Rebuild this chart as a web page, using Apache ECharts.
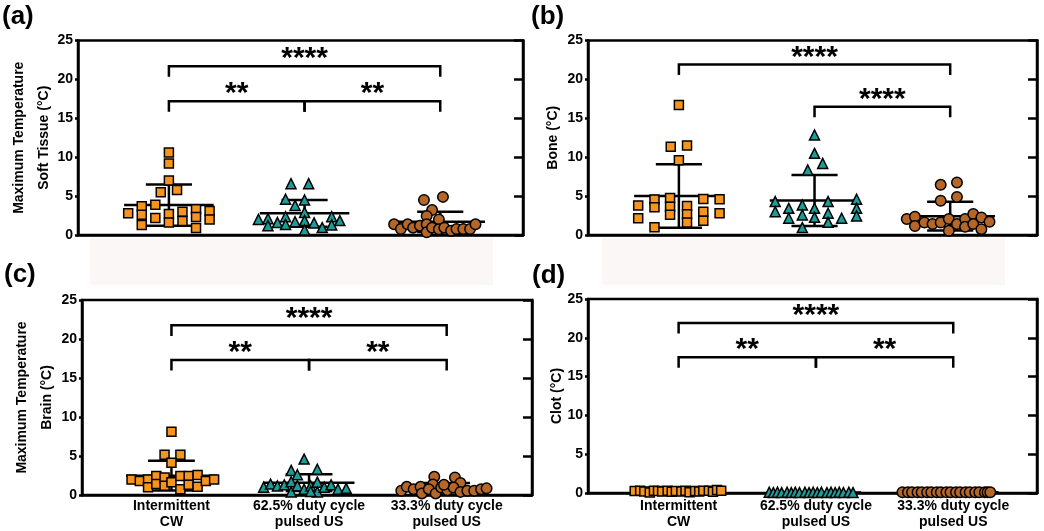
<!DOCTYPE html>
<html>
<head>
<meta charset="utf-8">
<script src="https://cdn.jsdelivr.net/npm/echarts@6/dist/echarts.min.js"></script>
<style>
  html, body { margin: 0; padding: 0; background: #fff; }
  #chart { width: 1044px; height: 531px; }
</style>
</head>
<body>
<div id="chart"></div>
<script>
// groups on the x axis
const categories = ['Intermittent\nCW', '62.5% duty cycle\npulsed US', '33.3% duty cycle\npulsed US'];
const yMin = 0, yMax = 25, yStep = 5;

// points are [jitter, °C]; jitter is the sideways spread inside a group
const softCW = [[0, 10.6], [0, 9.2], [0, 7.0], [-0.06, 5.5], [0.06, 5.8], [-0.1, 3.9], [-0.2, 3.7], [-0.3, 2.8], [-0.2, 2.6], [-0.2, 1.3],
  [-0.1, 2.2], [0, 2.7], [0, 1.6], [0.1, 3.0], [0.1, 1.8], [0.2, 3.3], [0.2, 2.3], [0.2, 0.9], [0.3, 3.1], [0.3, 2.0]];
const softP62 = [[-0.1, 6.6], [0.03, 6.6], [-0.14, 4.6], [0, 4.5], [-0.07, 3.8], [0, 2.9], [-0.34, 2.0], [-0.27, 2.1], [-0.27, 1.2], [-0.2, 1.6],
  [-0.14, 2.35], [-0.14, 1.35], [-0.07, 1.7], [0, 1.85], [0, 0.65], [0.07, 1.55], [0.13, 0.95], [0.2, 2.35], [0.2, 1.3], [0.26, 1.85]];
const softP33 = [[-0.12, 4.5], [0.02, 4.9], [-0.06, 3.2], [-0.1, 2.45], [-0.01, 2.0], [-0.34, 1.37], [-0.29, 0.77], [-0.24, 1.37], [-0.2, 0.94], [-0.15, 1.2],
  [-0.1, 1.37], [-0.1, 0.35], [-0.06, 0.94], [-0.01, 0.73], [0.03, 0.94], [0.08, 0.55], [0.12, 0.77], [0.17, 0.77], [0.22, 0.77], [0.26, 1.37]];

const boneCW = [[0, 16.7], [-0.06, 11.35], [0.06, 11.5], [0, 9.6], [-0.3, 3.8], [-0.3, 2.15], [-0.18, 4.55], [-0.18, 3.56], [-0.18, 1.0], [-0.065, 4.75],
  [-0.065, 3.64], [-0.065, 2.6], [0.06, 3.73], [0.06, 2.66], [0.06, 1.6], [0.18, 4.63], [0.18, 3.0], [0.18, 1.84], [0.3, 4.6], [0.3, 2.8]];
const boneP62 = [[0, 12.85], [0, 10.5], [0.06, 9.2], [-0.05, 8.35], [-0.29, 4.3], [-0.29, 3.0], [-0.19, 3.43], [-0.19, 2.15], [-0.09, 3.86], [-0.09, 2.57],
  [-0.09, 0.95], [0, 3.43], [0, 2.27], [0.1, 4.3], [0.1, 2.8], [0.1, 1.63], [0.2, 2.15], [0.31, 4.6], [0.31, 3.43], [0.31, 2.44]];
const boneP33 = [[-0.07, 6.45], [0.05, 6.75], [0.05, 4.9], [-0.07, 4.4], [-0.32, 2.05], [-0.26, 2.35], [-0.26, 1.15], [-0.19, 1.6], [-0.13, 1.4], [-0.07, 1.6],
  [-0.01, 2.05], [-0.01, 0.55], [0.05, 1.4], [0.11, 2.05], [0.11, 1.05], [0.17, 2.7], [0.17, 1.4], [0.23, 2.25], [0.23, 0.75], [0.29, 1.7]];

const brainCW = [[0, 8.1], [-0.05, 5.15], [0.065, 5.15], [0, 4.15], [-0.29, 2.0], [-0.23, 1.8], [-0.17, 2.0], [-0.17, 1.0], [-0.11, 2.45], [-0.11, 1.4],
  [-0.05, 2.25], [-0.05, 1.2], [0, 1.65], [0.065, 2.45], [0.065, 0.75], [0.125, 2.45], [0.125, 1.3], [0.19, 2.55], [0.19, 1.05], [0.25, 1.8], [0.31, 2.0]];
const brainP62 = [[-0.036, 4.6], [-0.13, 3.15], [0.06, 3.3], [-0.085, 2.6], [-0.33, 1.0], [-0.28, 1.4], [-0.23, 1.15], [-0.18, 1.3], [-0.13, 1.7], [-0.13, 0.4],
  [-0.085, 1.2], [-0.036, 0.75], [0.012, 1.15], [0.06, 1.65], [0.06, 0.4], [0.11, 1.0], [0.16, 1.3], [0.21, 0.75], [0.27, 0.85], [0.012, 0.45]];
const brainP33 = [[-0.09, 2.35], [0.06, 2.25], [0.1, 1.55], [-0.1, 1.35], [-0.33, 0.55], [-0.29, 1.05], [-0.24, 0.75], [-0.19, 1.05], [-0.18, 0.2], [-0.13, 0.75],
  [-0.08, 0.2], [-0.04, 0.95], [0.005, 0.6], [0.05, 0.95], [0.1, 0.4], [0.15, 0.55], [0.2, 0.55], [0.25, 0.75], [0.29, 0.85], [-0.02, 1.3]];

const clotCW = [[-0.32, 0.25], [-0.28, 0.3], [-0.25, 0.2], [-0.21, 0.05], [-0.18, 0.3], [-0.15, 0.25], [-0.12, 0.2], [-0.08, 0.3], [-0.05, 0.15], [-0.02, 0.25],
  [0.02, 0.2], [0.05, 0.3], [0.08, 0.1], [0.12, 0.25], [0.15, 0.2], [0.18, 0.3], [0.22, 0.3], [0.25, 0.15], [0.28, 0.4], [0.31, 0.3]];
const clotP62 = [[-0.34, 0.1], [-0.31, 0.05], [-0.28, 0.1], [-0.25, 0.05], [-0.21, 0.1], [-0.18, 0.05], [-0.15, 0.1], [-0.12, 0.05], [-0.08, 0.1], [-0.05, 0.05],
  [-0.02, 0.1], [0.01, 0.05], [0.04, 0.1], [0.08, 0.05], [0.11, 0.1], [0.14, 0.05], [0.17, 0.1], [0.2, 0.05], [0.24, 0.1], [0.27, 0.05]];
const clotP33 = [[-0.37, 0.1], [-0.33, 0.1], [-0.3, 0.1], [-0.26, 0.1], [-0.23, 0.1], [-0.19, 0.1], [-0.16, 0.1], [-0.12, 0.1], [-0.09, 0.1], [-0.05, 0.1],
  [-0.02, 0.1], [0.02, 0.1], [0.05, 0.1], [0.09, 0.1], [0.12, 0.1], [0.16, 0.1], [0.19, 0.1], [0.23, 0.1], [0.25, 0.1], [0.27, 0.1]];

// mean and SD per group [mean, sd]
const softStats = [[3.85, 2.65], [2.78, 1.72], [1.7, 1.3]];
const boneStats = [[5.02, 4.08], [4.43, 3.27], [2.42, 1.85]];
const brainStats = [[2.48, 1.9], [1.58, 1.08], [0.95, 0.6]];
const clotStats = [[0.22, 0.1], [0.07, 0.04], [0.1, 0.03]];

// significance brackets: from group, to group, height (°C), stars
const softBrackets = [{ from: 0, to: 2, y: 21.7, label: '****' }, { from: 0, to: 1, y: 17.2, label: '**' }, { from: 1, to: 2, y: 17.2, label: '**' }];
const boneBrackets = [{ from: 0, to: 2, y: 21.9, label: '****' }, { from: 1, to: 2, y: 16.5, label: '****' }];
const brainBrackets = [{ from: 0, to: 2, y: 21.75, label: '****' }, { from: 0, to: 1, y: 17.3, label: '**' }, { from: 1, to: 2, y: 17.3, label: '**' }];
const clotBrackets = [{ from: 0, to: 2, y: 21.9, label: '****' }, { from: 0, to: 1, y: 17.5, label: '**' }, { from: 1, to: 2, y: 17.5, label: '**' }];

const FONT = 'Liberation Sans';
const LW = 2.5;
const MEAN_HALF = 0.33, CAP_HALF = 0.17, DROP = 1.35;

const markers = [
    { symbol: 'rect', color: '#F7941D', size: 9 },
    { symbol: 'triangle', color: '#1B9E9A', size: 10 },
    { symbol: 'circle', color: '#B5672A', size: 10.5 }
];

const panels = [
    { tag: '(a)', tagPos: [2, 4], name: 'Maximum Temperature\nSoft Tissue (°C)', nameGap: 21, groups: [softCW, softP62, softP33],
      stats: softStats, brackets: softBrackets, grid: { left: 78, top: 40.5, width: 445, height: 194.5 }, xr: [-0.67, 2.61], xLabels: false, labelMargin: 3 },
    { tag: '(b)', tagPos: [531, 4], name: 'Bone (°C)', nameGap: 22, groups: [boneCW, boneP62, boneP33],
      stats: boneStats, brackets: boneBrackets, grid: { left: 588, top: 40.5, width: 449, height: 194.5 }, xr: [-0.67, 2.64], xLabels: false, labelMargin: 3 },
    { tag: '(c)', tagPos: [4, 262], name: 'Maximum Temperature\nBrain (°C)', nameGap: 22, groups: [brainCW, brainP62, brainP33],
      stats: brainStats, brackets: brainBrackets, grid: { left: 82, top: 300, width: 450, height: 195 }, xr: [-0.65, 2.62], xLabels: true, labelMargin: 3 },
    { tag: '(d)', tagPos: [532, 263], name: 'Clot (°C)', nameGap: 18, groups: [clotCW, clotP62, clotP33],
      stats: clotStats, brackets: clotBrackets, grid: { left: 588, top: 299, width: 449, height: 194 }, xr: [-0.66, 2.61], xLabels: true, labelMargin: 5 }
];

function errorBars(params, api) {
    const x = api.value(0), m = api.value(1), s = api.value(2);
    const seg = (x1, y1, x2, y2) => {
        const a = api.coord([x1, y1]), b = api.coord([x2, y2]);
        return { type: 'line', shape: { x1: a[0], y1: a[1], x2: b[0], y2: b[1] }, style: { stroke: '#000', lineWidth: LW } };
    };
    return {
        type: 'group',
        children: [
            seg(x, m - s, x, m + s),
            seg(x - MEAN_HALF, m, x + MEAN_HALF, m),
            seg(x - CAP_HALF, m + s, x + CAP_HALF, m + s),
            seg(x - CAP_HALF, m - s, x + CAP_HALF, m - s)
        ]
    };
}

function bracketRenderer(list) {
    return function (params, api) {
        const b = list[params.dataIndex];
        const p = (x, y) => api.coord([x, y]);
        const pts = [p(b.from, b.y - DROP), p(b.from, b.y), p(b.to, b.y), p(b.to, b.y - DROP)];
        const mid = p((b.from + b.to) / 2, b.y);
        return {
            type: 'group',
            children: [
                { type: 'polyline', shape: { points: pts }, style: { stroke: '#000', lineWidth: LW, fill: null } },
                { type: 'text', x: mid[0], y: mid[1] - 7,
                  style: { text: b.label, font: 'bold 30px "' + FONT + '"', fill: '#000', align: 'center', verticalAlign: 'middle' } }
            ]
        };
    };
}

const grid = [], xAxis = [], yAxis = [], series = [], graphic = [];
const axisLine = { show: true, onZero: false, lineStyle: { color: '#000', width: LW } };

panels.forEach((pn, i) => {
    grid.push(Object.assign({ show: true, borderColor: '#000', borderWidth: LW }, pn.grid));
    xAxis.push({
        gridIndex: i, type: 'value', min: pn.xr[0], max: pn.xr[1],
        axisLine: axisLine, axisTick: { show: false }, splitLine: { show: false },
        axisLabel: {
            show: pn.xLabels, customValues: [0, 1, 2], formatter: v => categories[Math.round(v)] || '',
            color: '#000', fontWeight: 'bold', fontSize: 14, fontFamily: FONT, lineHeight: 16, margin: pn.labelMargin
        }
    });
    yAxis.push({
        gridIndex: i, type: 'value', min: yMin, max: yMax, interval: yStep,
        axisLine: axisLine, axisTick: { show: true, length: 3, lineStyle: { color: '#000', width: LW } },
        splitLine: { show: false },
        axisLabel: { color: '#000', fontWeight: 'bold', fontSize: 14, fontFamily: FONT, margin: 5 },
        name: pn.name, nameLocation: 'middle', nameGap: pn.nameGap, nameMoveOverlap: false,
        nameTextStyle: { color: '#000', fontWeight: 'bold', fontSize: 14, fontFamily: FONT, lineHeight: 25 }
    });
    yAxis.push({
        gridIndex: i, type: 'value', min: yMin, max: yMax, interval: yStep, position: 'right',
        axisLine: axisLine, axisTick: { show: true, inside: true, length: 9, lineStyle: { color: '#000', width: LW } },
        axisLabel: { show: false }, splitLine: { show: false }
    });
    const yi = i * 2;
    series.push({
        type: 'custom', xAxisIndex: i, yAxisIndex: yi, z: 2,
        renderItem: errorBars, encode: { x: 0, y: 1 },
        data: pn.stats.map((s, g) => [g, s[0], s[1]])
    });
    pn.groups.forEach((pts, g) => {
        const mk = markers[g];
        series.push({
            type: 'scatter', xAxisIndex: i, yAxisIndex: yi, z: 3,
            symbol: mk.symbol, symbolSize: mk.size,
            itemStyle: { color: mk.color, borderColor: '#000', borderWidth: 1.5, opacity: 1 },
            data: pts.map(d => [g + d[0], d[1]])
        });
    });
    series.push({
        type: 'custom', xAxisIndex: i, yAxisIndex: yi, z: 4,
        renderItem: bracketRenderer(pn.brackets), encode: { x: [0, 1], y: 2 },
        data: pn.brackets.map(b => [b.from, b.to, b.y])
    });
    graphic.push({
        type: 'text', left: pn.tagPos[0], top: pn.tagPos[1],
        style: { text: pn.tag, font: 'bold 26px "' + FONT + '"', fill: '#000' }
    });
});

// faint bands under the two upper panels
graphic.push({ type: 'rect', z: -1, shape: { x: 90, y: 238, width: 403, height: 47 }, style: { fill: '#fbf7f7' } });
graphic.push({ type: 'rect', z: -1, shape: { x: 602, y: 238, width: 403, height: 47 }, style: { fill: '#fbf7f7' } });

const chart = echarts.init(document.getElementById('chart'), null, { renderer: 'canvas' });
chart.setOption({
    animation: false,
    backgroundColor: '#fff',
    grid: grid,
    xAxis: xAxis,
    yAxis: yAxis,
    series: series,
    graphic: graphic
});
</script>
</body>
</html>
